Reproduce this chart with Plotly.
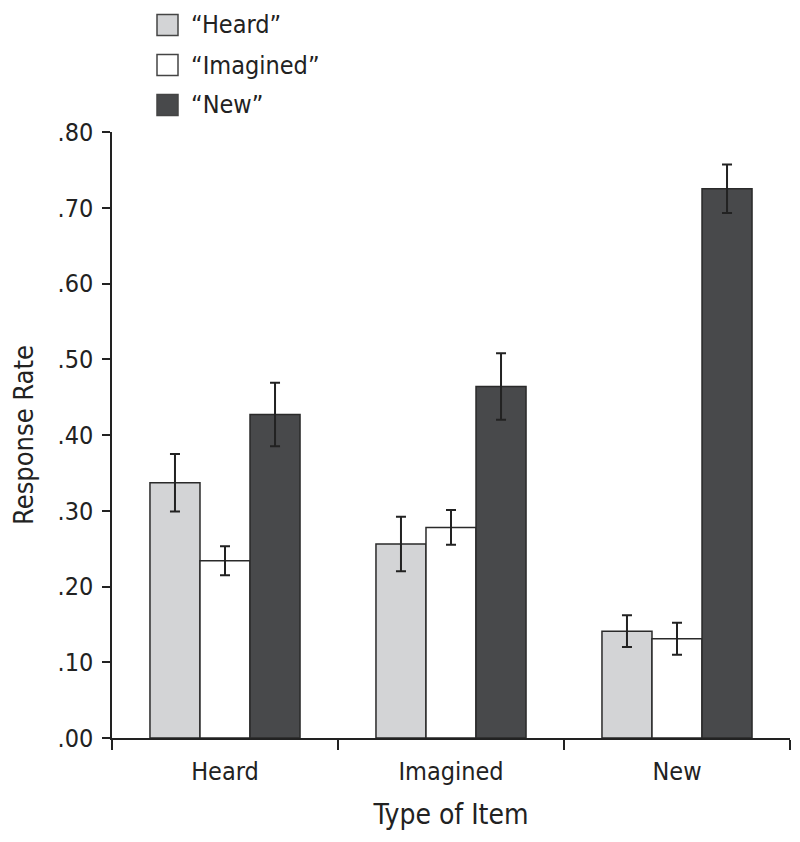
import plotly.graph_objects as go

categories = ["Heard", "Imagined", "New"]
series_names = ["“Heard”", "“Imagined”", "“New”"]
resp_heard = [0.337, 0.256, 0.141]
resp_imagined = [0.234, 0.278, 0.131]
resp_new = [0.427, 0.464, 0.725]
err_heard = [0.038, 0.036, 0.021]
err_imagined = [0.019, 0.023, 0.021]
err_new = [0.042, 0.044, 0.032]
y_tickvals = [0, 0.1, 0.2, 0.3, 0.4, 0.5, 0.6, 0.7, 0.8]
y_ticktext = [".00", ".10", ".20", ".30", ".40", ".50", ".60", ".70", ".80"]

colors = ["#d3d4d6", "#ffffff", "#48494b"]
values = [resp_heard, resp_imagined, resp_new]
errors = [err_heard, err_imagined, err_new]
FONT = "DejaVu Sans Condensed, Liberation Sans, sans-serif"
TXT = "#222222"

OFF = 8  # page body margin
W, H = 800, 842
ML, MR, MT, MB = 112 - OFF, 800 - 790 + OFF, 132 - OFF, 842 - 738 + OFF
PW, PH = W - ML - MR, H - MT - MB


def px_x(x):
    return (x - OFF - ML) / PW


def px_y(y):
    return (H - MB - (y - OFF)) / PH


fig = go.Figure()
for name, vals, errs, col in zip(series_names, values, errors, colors):
    fig.add_trace(go.Bar(
        x=categories, y=vals, name=name, showlegend=False,
        marker=dict(color=col, line=dict(color="#2a2a2a", width=1.5)),
        error_y=dict(type="data", array=errs, visible=True,
                     color="#222222", thickness=2, width=5),
    ))

# manual legend (larger swatches, as in the original)
for i, (name, col) in enumerate(zip(series_names, colors)):
    cy = 25 + i * 40
    fig.add_shape(type="rect", xref="paper", yref="paper",
                  x0=px_x(157), x1=px_x(178), y0=px_y(cy + 10.5), y1=px_y(cy - 10.5),
                  fillcolor=col, line=dict(color="#444444", width=1.5))
    fig.add_annotation(xref="paper", yref="paper", x=px_x(189), y=px_y(cy),
                       xanchor="left", yanchor="middle", showarrow=False,
                       text=name, font=dict(family=FONT, size=25, color=TXT))

fig.update_layout(
    width=W, height=H,
    margin=dict(l=ML, r=MR, t=MT, b=MB, autoexpand=False),
    paper_bgcolor="white", plot_bgcolor="white",
    barmode="group", bargap=0.336, bargroupgap=0,
    showlegend=False,
    font=dict(family=FONT, size=24, color=TXT),
    xaxis=dict(
        showline=True, linecolor="#222222", linewidth=1.5,
        ticks="outside", tickson="boundaries", ticklen=10, tickwidth=1.5,
        tickcolor="#222222", showgrid=False, ticklabelstandoff=10,
        tickfont=dict(family=FONT, size=25, color=TXT),
        title=dict(text="Type of Item", font=dict(family=FONT, size=28, color=TXT),
                   standoff=20),
    ),
    yaxis=dict(
        range=[0, 0.8], tickvals=y_tickvals, ticktext=y_ticktext,
        showline=True, linecolor="#222222", linewidth=1.5,
        ticks="outside", ticklen=8, tickwidth=1.5, tickcolor="#222222",
        showgrid=False, zeroline=False, ticklabelstandoff=4,
        tickfont=dict(family=FONT, size=25, color=TXT),
        title=dict(text="Response Rate", font=dict(family=FONT, size=27, color=TXT),
                   standoff=18),
    ),
)

fig.write_html("out.html")
